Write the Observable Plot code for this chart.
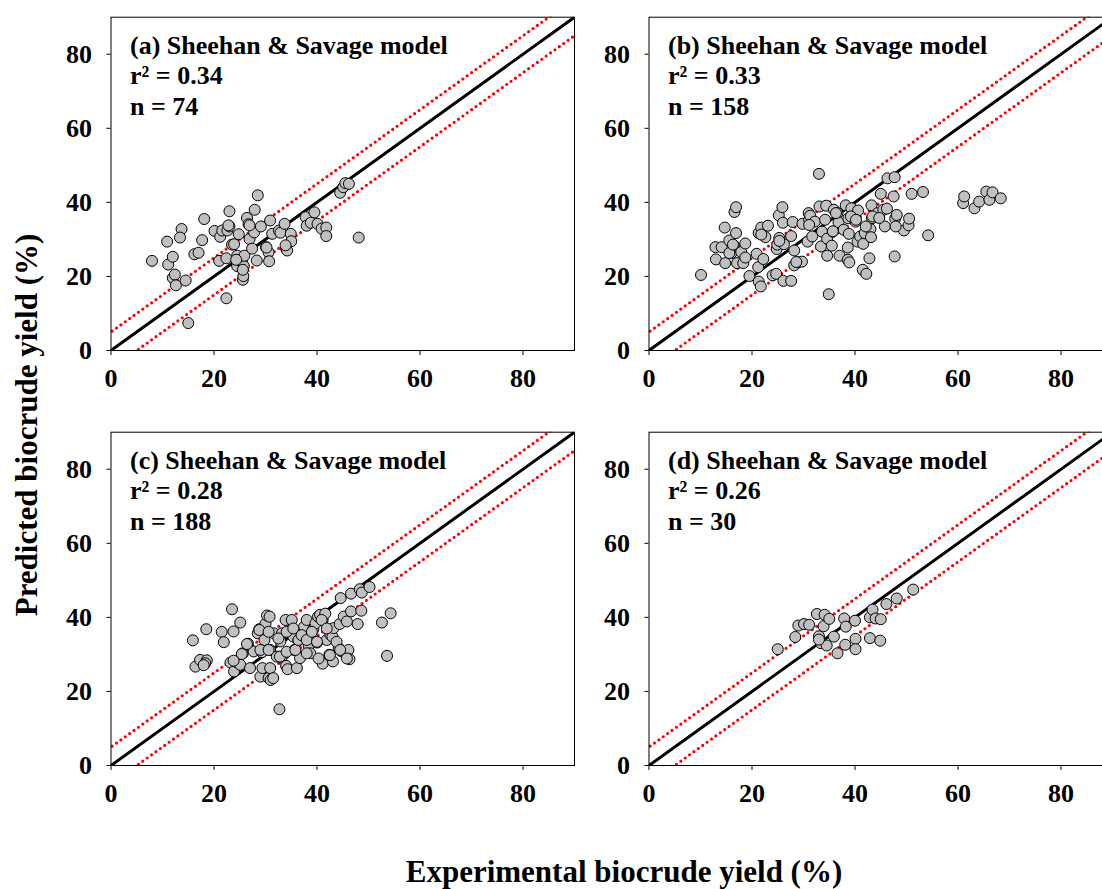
<!DOCTYPE html>
<html>
<head>
<meta charset="utf-8">
<script src="https://cdn.jsdelivr.net/npm/d3@7"></script>
<script src="https://cdn.jsdelivr.net/npm/@observablehq/plot@0.6"></script>
<style>
html, body { margin: 0; padding: 0; background: #fff; overflow: hidden; }
#wrap { position: relative; width: 1102px; height: 889px; overflow: hidden; background: #fff;
  font-family: "Liberation Serif", "Times New Roman", serif; font-weight: bold; color: #000; }
.panel { position: absolute; width: 584px; height: 400px; }
.panel svg { max-width: none !important; }
#ytitle { position: absolute; left: 27px; top: 425px; transform: translate(-50%, -50%) rotate(-90deg);
  font-size: 31px; white-space: nowrap; }
#xtitle { position: absolute; left: 624px; top: 872px; transform: translate(-50%, -50%);
  font-size: 31px; white-space: nowrap; }
</style>
</head>
<body>
<div id="wrap">
  <div id="pa" class="panel" style="left:0px; top:0px;"></div>
  <div id="pb" class="panel" style="left:538px; top:0px;"></div>
  <div id="pc" class="panel" style="left:0px; top:415px;"></div>
  <div id="pd" class="panel" style="left:538px; top:415px;"></div>
  <div id="ytitle">Predicted biocrude yield (%)</div>
  <div id="xtitle">Experimental biocrude yield (%)</div>
</div>
<script>
// ---------- data ----------
const tickValues = [0, 20, 40, 60, 80];
const axisDomain = [0, 90];
const lineOffsets = [0, 5, -5];           // 1:1 line and ±5 % band
const panelTitles = ["(a) Sheehan & Savage model", "(b) Sheehan & Savage model",
                     "(c) Sheehan & Savage model", "(d) Sheehan & Savage model"];
const r2Values = ["0.34", "0.33", "0.28", "0.26"];
const nValues = [74, 158, 188, 30];

const aX = [7.96,10.9,11.1,12.0,12.0,12.4,12.6,13.7,13.4,14.5,15.0,16.2,17.0,17.7,18.1,20.1,21.0,21.2,21.6,22.4,22.4,22.6,23.0,23.0,23.5,23.9,24.5,24.5,24.8,25.4,25.6,25.7,25.8,25.9,26.4,26.7,26.9,27.4,27.8,27.9,28.5,28.3,29.1,30.1,30.6,30.7,30.9,31.3,32.6,32.9,33.7,34.0,34.2,34.9,35.0,37.8,38.0,38.8,39.5,40.1,40.9,41.8,41.8,44.5,45.1,45.5,46.2,48.1,33.9,22.8,24.3,25.6,26.9,30.2];
const aY = [24.2,29.4,23.2,25.3,19.6,20.5,17.6,32.8,30.5,18.9,7.4,26.0,26.4,29.8,35.5,32.3,24.2,30.7,32.4,14.1,24.9,32.4,37.6,33.5,28.6,28.7,25.6,22.8,31.4,23.9,19.1,20.1,22.8,25.6,35.8,34.1,30.1,27.5,31.9,38.0,41.9,24.3,33.5,27.9,26.5,24.1,35.1,31.5,32.4,31.8,34.2,27.5,27.0,31.5,29.5,36.0,33.7,34.5,37.3,34.2,32.9,33.2,30.9,42.6,44.1,45.2,45.0,30.5,28.4,33.8,24.5,21.8,33.8,27.8];

const bX = [10.1,12.9,14.1,13.0,14.7,14.8,15.6,16.0,16.5,16.6,16.9,16.9,17.1,17.9,18.3,18.7,18.7,19.5,20.9,21.2,21.3,21.7,21.3,21.8,22.2,22.6,23.1,24.0,24.7,24.8,24.9,25.2,25.3,25.9,26.0,26.1,26.2,27.6,27.6,27.9,28.2,28.2,28.9,29.7,29.8,30.8,31.0,31.1,31.3,31.7,32.2,33.0,33.1,33.4,33.6,34.2,34.4,34.6,34.6,34.9,35.5,35.7,35.9,36.6,36.8,37.0,37.8,38.2,38.6,38.6,38.7,38.8,38.9,39.3,40.1,40.5,40.6,41.0,41.5,41.6,41.9,42.2,42.8,43.0,43.1,43.2,43.3,44.4,45.0,45.5,45.8,46.2,46.3,47.7,47.5,47.7,47.8,48.1,49.5,50.4,50.5,51.0,53.2,54.2,61.0,61.2,63.2,64.1,65.5,66.1,66.7,68.3,21.8,31.1,39.2,40.2,42.1,43.4,44.7,47.9,15.6,16.3,25.3,28.6,35.7,36.3];
const bY = [20.4,27.9,27.9,24.6,33.2,23.6,29.7,26.3,28.3,37.4,38.7,31.7,23.6,26.6,23.6,28.9,25.1,20.1,26.1,22.5,18.6,17.3,31.7,33.2,24.7,30.6,33.7,20.3,20.7,27.4,28.6,36.5,30.4,38.7,34.5,18.8,28.7,18.8,30.9,34.7,27.0,23.0,23.8,24.0,34.2,29.4,37.1,35.3,36.4,30.8,34.8,47.7,38.9,28.1,32.1,35.3,39.1,30.2,25.6,15.2,28.3,32.1,38.0,37.1,34.6,25.6,32.6,39.2,24.5,27.8,35.7,31.5,23.8,38.4,34.8,29.4,37.8,30.8,21.8,28.8,31.7,20.7,24.9,32.8,30.6,39.2,35.7,37.1,42.3,38.0,33.5,38.3,46.5,46.8,41.6,25.4,35.6,36.6,32.4,33.8,35.6,42.3,42.8,31.1,39.8,41.6,38.4,40.2,42.9,40.7,42.7,41.1,31.3,33.9,36.2,35.3,33.5,36.2,35.8,33.5,26.3,28.6,29.6,23.9,32.2,37.1];

const cX = [15.9,16.4,17.3,18.5,18.6,18.3,21.5,21.9,23.5,23.2,23.8,23.9,24.5,25.1,25.1,25.6,26.6,27.0,27.7,28.5,28.8,29.0,29.3,29.4,29.8,30.0,30.3,30.8,30.6,31.0,30.9,30.9,31.6,32.2,32.7,32.9,33.1,33.2,33.9,34.0,34.3,34.7,35.1,35.4,35.6,36.1,36.4,36.7,37.1,37.5,38.0,38.4,38.7,39.3,39.7,40.0,40.2,40.6,41.1,41.1,41.6,41.9,42.4,42.6,43.0,43.1,43.2,44.2,44.4,44.6,44.8,45.2,45.8,46.1,46.3,46.6,46.6,47.9,48.3,48.6,48.7,50.2,52.6,53.6,54.3,26.4,25.4,28.8,29.0,30.6,30.6,31.5,32.5,32.8,34.1,34.1,35.4,35.8,36.4,37.0,38.0,38.0,39.0,40.0,40.3,40.9,41.9,42.5,43.8,44.5,45.8,18.0,23.8];
const cY = [33.8,26.7,28.5,36.8,28.4,27.6,36.1,33.3,42.2,27.8,36.2,25.4,27.8,38.6,27.2,30.3,32.9,26.3,30.8,35.7,36.8,24.0,30.6,26.3,33.9,38.3,40.5,40.2,23.6,23.1,26.3,31.2,35.7,29.4,15.2,33.5,29.1,35.7,39.3,26.9,26.0,36.5,39.3,34.8,31.2,26.3,33.8,29.0,34.8,37.5,39.3,32.3,30.3,36.8,38.4,33.2,40.2,40.7,39.3,27.5,41.0,33.9,29.9,35.3,34.8,28.1,37.1,31.7,38.2,45.2,30.8,40.2,38.9,31.2,28.7,46.4,41.6,38.2,47.6,41.8,46.7,48.2,38.6,29.6,41.1,32.8,30.1,36.6,31.2,36.1,31.2,23.6,34.3,29.4,36.1,30.7,37.0,31.2,33.9,35.2,33.9,30.3,36.1,33.4,28.9,39.3,37.0,29.8,33.4,31.2,28.9,27.1,28.3];

const dX = [25.0,28.4,29.0,30.1,31.1,32.6,33.0,33.4,33.9,34.1,34.5,35.0,35.9,36.6,37.9,38.1,38.2,40.0,40.1,40.1,42.9,42.9,43.4,44.0,44.9,45.0,46.1,48.1,51.3,33.0];
const dY = [31.4,34.7,37.8,38.2,38.0,40.9,34.9,33.0,37.6,40.7,32.4,39.6,34.8,30.3,39.7,32.6,37.5,39.1,34.2,31.4,34.4,40.0,42.1,39.7,33.7,39.5,43.6,45.1,47.5,34.0];

// ---------- drawing ----------
const FONT = "'Liberation Serif', 'Times New Roman', Times, serif";
const diagX = [-10, 100];

function panel(xs, ys, idx) {
  const pts = xs.map((x, i) => ({x, y: ys[i]}));
  const label = `${panelTitles[idx]}\nr\u00B2 = ${r2Values[idx]}\nn = ${nValues[idx]}`;
  const lineMarks = lineOffsets.map(off => Plot.line(diagX, {
    x: d => d, y: d => d + off, clip: true,
    stroke: off === 0 ? "#000" : "#ff0000",
    strokeWidth: off === 0 ? 3 : 3.2,
    strokeDasharray: off === 0 ? null : "0,5.4",
    strokeLinecap: "round"
  }));
  return Plot.plot({
    width: 584, height: 400,
    marginLeft: 110.5, marginRight: 10, marginTop: 16.7, marginBottom: 50,
    x: {domain: axisDomain},
    y: {domain: axisDomain},
    style: {fontFamily: FONT, fontSize: "26px", fontWeight: "bold", background: "transparent", color: "#000", overflow: "visible", maxWidth: "none"},
    marks: [
      Plot.axisX({ticks: tickValues, tickSize: 5, tickPadding: 13, label: null, fontWeight: "bold"}),
      Plot.axisY({ticks: tickValues, tickSize: 4, tickPadding: 15, label: null, fontWeight: "bold"}),
      ...lineMarks,
      Plot.dot(pts, {x: "x", y: "y", r: 5.5, fill: "#c0c0c0", stroke: "#000", strokeWidth: 1, clip: true}),
      Plot.frame({stroke: "#000", strokeWidth: 1}),
      Plot.text([label], {text: d => d, frameAnchor: "top-left", dx: 19, dy: 15, lineHeight: 1.17,
        fontSize: 26, fontWeight: "bold", fill: "#000"})
    ]
  });
}

document.getElementById("pa").append(panel(aX, aY, 0));
document.getElementById("pb").append(panel(bX, bY, 1));
document.getElementById("pc").append(panel(cX, cY, 2));
document.getElementById("pd").append(panel(dX, dY, 3));
</script>
</body>
</html>
